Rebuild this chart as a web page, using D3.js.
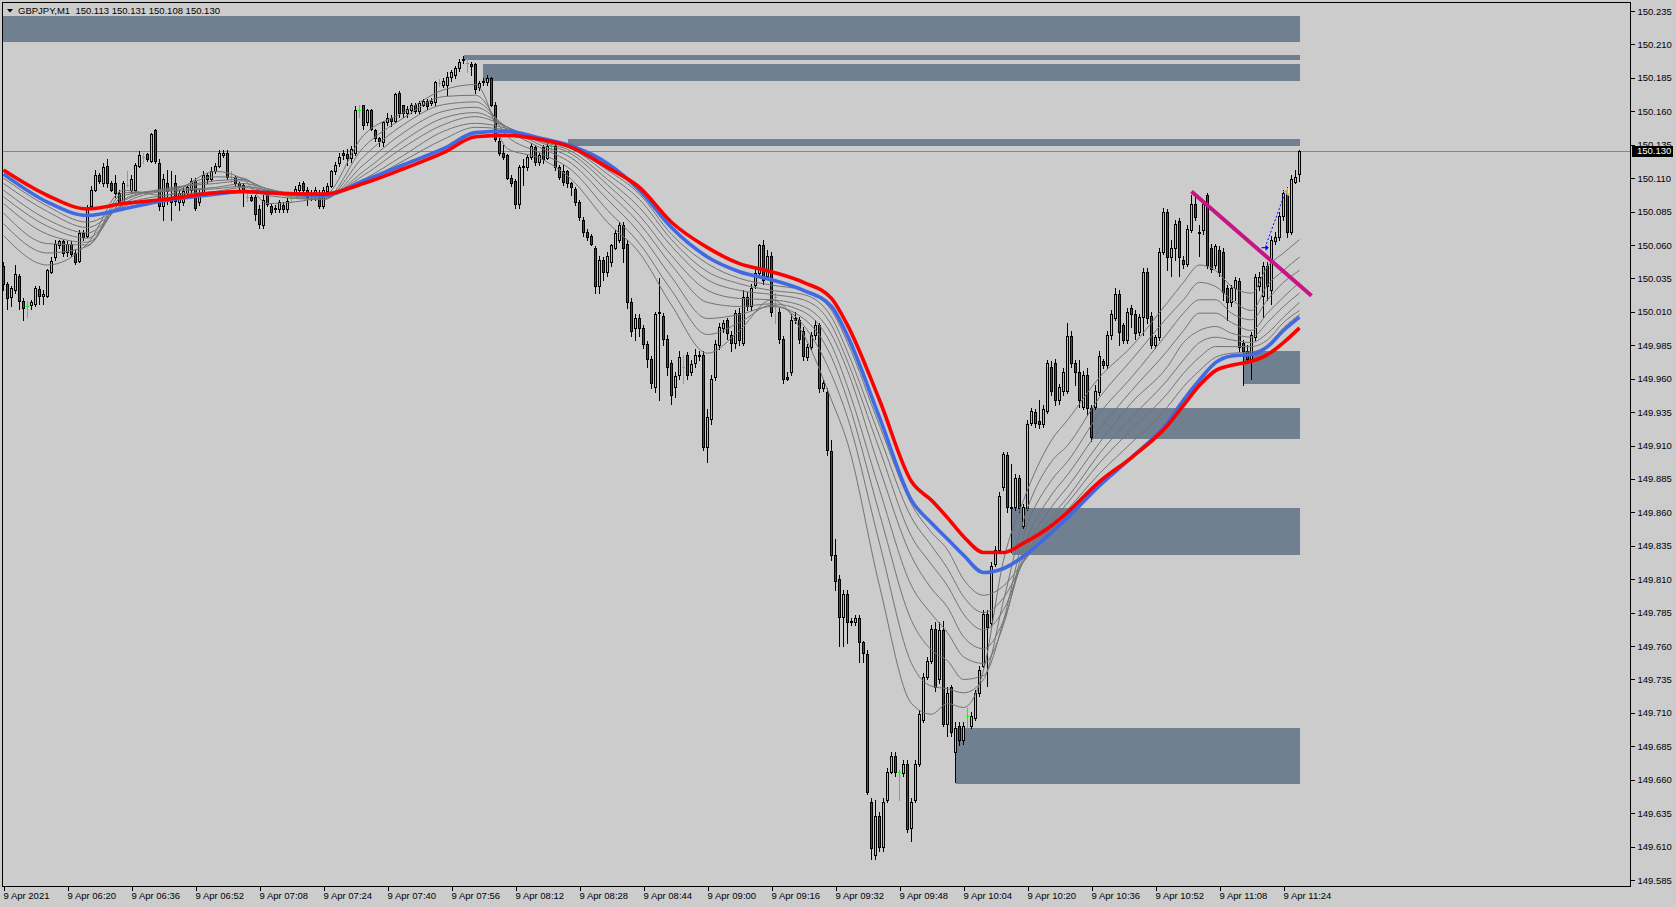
<!DOCTYPE html>
<html><head><meta charset="utf-8">
<script src="https://cdnjs.cloudflare.com/ajax/libs/d3/7.8.5/d3.min.js"></script>
<style>
html,body{margin:0;padding:0;background:#cccccc;overflow:hidden}
svg{display:block;font-family:"Liberation Sans",Arial,sans-serif}
</style></head><body>
<svg id="chart" width="1676" height="907"></svg>
<script>
// ---------------- DATA ----------------
const symbolTitle = "GBPJPY,M1  150.113 150.131 150.108 150.130";
const lastPrice = 150.130;

const opens = [
150.044,150.031,150.021,150.026,150.037,150.018,150.014,150.015,150.016,150.027,
150.022,150.022,150.040,150.051,150.060,150.063,150.055,150.061,150.054,150.048,
150.069,150.067,150.089,150.101,150.112,150.106,150.119,150.106,150.106,150.099,
150.092,150.105,150.101,150.101,150.119,150.126,150.128,150.123,150.146,150.121,
150.089,150.106,150.094,150.106,150.092,150.092,150.099,150.101,150.108,150.092,
150.099,150.112,150.109,150.115,150.119,150.127,150.129,150.111,150.111,150.106,
150.105,150.096,150.096,150.096,150.087,150.075,150.099,150.089,150.088,150.087,
150.090,150.087,150.095,150.099,150.101,150.106,150.101,150.099,150.097,150.099,
150.089,150.100,150.104,150.115,150.121,150.129,150.128,150.125,150.129,150.161,
150.165,150.152,150.161,150.146,150.140,150.137,150.152,150.155,150.153,150.174,
150.165,150.159,150.161,150.165,150.160,150.165,150.168,150.166,150.167,150.181,
150.180,150.180,150.186,150.187,150.192,150.199,150.196,150.195,150.195,150.178,
150.183,150.182,150.185,150.165,150.138,150.129,150.127,150.110,150.108,150.091,
150.118,150.118,150.126,150.133,150.122,150.133,150.125,150.134,150.134,150.118,
150.115,150.115,150.106,150.102,150.092,150.079,150.070,150.067,150.058,150.029,
150.049,150.040,150.047,150.058,150.064,150.075,150.061,150.017,149.998,150.005,
149.998,149.986,149.975,149.954,150.010,150.007,149.990,149.972,149.954,149.963,
149.969,149.978,149.965,149.972,149.978,149.978,149.909,149.930,149.961,149.985,
149.998,150.004,149.993,149.987,150.009,149.987,150.021,150.014,150.030,150.039,
150.060,150.037,150.052,150.021,150.010,149.990,149.961,149.965,150.005,150.004,
149.996,149.976,149.984,149.993,150.000,149.953,149.950,149.906,149.828,149.810,
149.782,149.799,149.779,149.778,149.781,149.763,149.754,149.643,149.604,149.633,
149.610,149.645,149.666,149.678,149.666,149.665,149.672,149.624,149.645,149.672,
149.705,149.737,149.749,149.773,149.735,149.772,149.702,149.729,149.681,149.700,
149.690,149.708,149.700,149.706,149.725,149.745,149.784,149.777,149.821,149.832,
149.879,149.903,149.864,149.864,149.886,149.850,149.863,149.927,149.935,149.928,
149.926,149.936,149.969,149.972,149.944,149.951,149.951,149.992,149.972,149.965,
149.939,149.963,149.938,149.939,149.950,149.973,149.970,149.993,150.005,150.023,
150.000,149.989,150.013,150.008,149.995,150.006,150.040,150.007,149.985,149.991,
150.055,150.085,150.051,150.058,150.078,150.049,150.046,150.071,150.091,150.070,
150.071,150.097,150.058,150.045,150.056,150.055,150.028,150.017,150.028,150.033,
149.987,149.981,149.975,149.991,150.029,150.022,150.044,150.026,150.063,150.066,
150.082,150.099,150.070,150.107,150.113];

const highs = [
150.047,150.032,150.029,150.045,150.038,150.020,150.018,150.019,150.029,150.029,
150.026,150.042,150.051,150.064,150.064,150.064,150.063,150.063,150.056,150.071,
150.071,150.090,150.104,150.116,150.114,150.121,150.124,150.108,150.112,150.101,
150.108,150.115,150.112,150.121,150.130,150.129,150.129,150.144,150.147,150.124,
150.113,150.116,150.115,150.112,150.101,150.103,150.105,150.110,150.110,150.101,
150.115,150.114,150.118,150.121,150.131,150.131,150.131,150.115,150.112,150.107,
150.106,150.099,150.097,150.097,150.090,150.097,150.101,150.091,150.090,150.094,
150.092,150.095,150.097,150.104,150.107,150.108,150.103,150.101,150.103,150.101,
150.103,150.106,150.116,150.122,150.129,150.131,150.132,150.134,150.164,150.165,
150.165,150.162,150.162,150.147,150.141,150.153,150.159,150.157,150.174,150.175,
150.165,150.164,150.166,150.166,150.168,150.169,150.169,150.170,150.183,150.184,
150.185,150.189,150.191,150.194,150.199,150.201,150.200,150.197,150.196,150.183,
150.185,150.187,150.186,150.167,150.140,150.135,150.128,150.112,150.109,150.120,
150.124,150.127,150.136,150.135,150.129,150.135,150.136,150.138,150.136,150.120,
150.120,150.116,150.107,150.103,150.094,150.081,150.072,150.068,150.059,150.052,
150.051,150.055,150.061,150.071,150.077,150.077,150.064,150.020,150.008,150.008,
150.000,149.988,149.977,150.010,150.035,150.009,149.993,149.974,149.965,149.981,
149.978,149.980,149.974,149.982,149.981,149.981,149.937,149.963,149.989,150.002,
150.004,150.005,149.996,150.011,150.013,150.026,150.025,150.031,150.043,150.061,
150.064,150.056,150.055,150.024,150.013,149.992,149.965,150.008,150.010,150.006,
149.999,149.986,149.995,150.004,150.002,149.959,149.953,149.914,149.840,149.813,
149.802,149.802,149.781,149.783,149.783,149.764,149.757,149.646,149.645,149.636,
149.646,149.669,149.681,149.681,149.667,149.675,149.675,149.646,149.675,149.712,
149.740,149.752,149.776,149.778,149.778,149.779,149.729,149.731,149.703,149.703,
149.703,149.714,149.711,149.727,149.745,149.787,149.787,149.823,149.835,149.875,
149.905,149.905,149.896,149.889,149.888,149.866,149.929,149.938,149.937,149.944,
149.940,149.974,149.973,149.975,149.956,149.968,150.002,149.996,149.974,149.974,
149.966,149.968,149.940,149.955,149.981,149.975,149.996,150.011,150.028,150.026,
150.002,150.013,150.015,150.011,150.008,150.043,150.043,150.010,149.993,150.058,
150.088,150.087,150.064,150.079,150.080,150.052,150.075,150.097,150.097,150.075,
150.094,150.099,150.061,150.061,150.059,150.058,150.030,150.030,150.036,150.035,
149.989,149.985,149.995,150.038,150.040,150.047,150.047,150.067,150.070,150.085,
150.101,150.103,150.112,150.116,150.131];

const lows = [
150.026,150.012,150.014,150.024,150.012,150.004,150.006,150.012,150.014,150.016,
150.016,150.021,150.039,150.049,150.058,150.052,150.052,150.052,150.046,150.047,
150.064,150.066,150.088,150.100,150.106,150.104,150.103,150.100,150.096,150.091,
150.091,150.103,150.099,150.100,150.118,150.121,150.123,150.122,150.121,150.086,
150.079,150.091,150.079,150.090,150.086,150.090,150.097,150.099,150.086,150.090,
150.097,150.106,150.108,150.114,150.118,150.126,150.109,150.107,150.104,150.101,
150.089,150.093,150.093,150.079,150.073,150.073,150.089,150.083,150.085,150.085,
150.085,150.085,150.093,150.097,150.099,150.099,150.090,150.094,150.094,150.088,
150.088,150.099,150.103,150.113,150.119,150.124,150.120,150.122,150.127,150.156,
150.147,150.150,150.146,150.138,150.134,150.134,150.150,150.149,150.152,150.156,
150.156,150.156,150.159,150.159,150.159,150.164,150.162,150.165,150.165,150.179,
150.178,150.172,150.183,150.185,150.190,150.196,150.189,150.187,150.174,150.176,
150.180,150.180,150.164,150.138,150.127,150.124,150.109,150.104,150.088,150.088,
150.105,150.116,150.124,150.120,150.120,150.121,150.124,150.131,150.116,150.109,
150.105,150.103,150.097,150.090,150.079,150.067,150.064,150.060,150.024,150.024,
150.034,150.037,150.044,150.057,150.062,150.047,150.013,149.992,149.989,149.992,
149.983,149.969,149.953,149.950,149.944,149.985,149.963,149.941,149.946,149.960,
149.957,149.960,149.963,149.969,149.974,149.907,149.898,149.926,149.959,149.982,
149.995,149.990,149.981,149.983,149.985,149.985,150.011,150.011,150.028,150.037,
150.031,150.035,150.007,150.002,149.987,149.957,149.959,149.963,150.002,149.987,
149.974,149.974,149.982,149.990,149.950,149.951,149.903,149.824,149.802,149.760,
149.760,149.762,149.776,149.776,149.748,149.748,149.649,149.601,149.601,149.607,
149.607,149.643,149.665,149.663,149.645,149.663,149.621,149.614,149.643,149.670,
149.703,149.735,149.747,149.726,149.732,149.700,149.693,149.693,149.658,149.686,
149.687,149.699,149.699,149.705,149.723,149.744,149.730,149.775,149.820,149.830,
149.877,149.860,149.830,149.862,149.860,149.848,149.862,149.925,149.924,149.923,
149.924,149.934,149.948,149.940,149.941,149.948,149.949,149.969,149.955,149.939,
149.937,149.933,149.913,149.937,149.948,149.968,149.968,149.990,150.004,149.985,
149.987,149.987,149.999,149.990,149.993,149.993,150.002,149.983,149.983,149.989,
150.053,150.041,150.037,150.049,150.037,150.043,150.044,150.070,150.079,150.052,
150.068,150.043,150.040,150.043,150.037,150.019,150.004,150.014,150.019,149.981,
149.955,149.973,149.960,149.989,150.026,150.006,150.019,150.016,150.061,150.064,
150.079,150.066,150.068,150.106,150.108];

const closes = [
150.031,150.020,150.028,150.038,150.018,150.013,150.014,150.017,150.028,150.022,
150.023,150.041,150.048,150.061,150.063,150.054,150.061,150.053,150.047,150.069,
150.066,150.087,150.101,150.112,150.108,150.118,150.106,150.101,150.099,150.092,
150.106,150.105,150.109,150.120,150.127,150.126,150.124,150.143,150.123,150.089,
150.109,150.100,150.092,150.093,150.099,150.100,150.103,150.108,150.088,150.099,
150.112,150.109,150.115,150.119,150.129,150.129,150.111,150.111,150.106,150.104,
150.101,150.096,150.094,150.083,150.076,150.094,150.091,150.085,150.087,150.092,
150.087,150.093,150.095,150.102,150.105,150.101,150.096,150.097,150.101,150.089,
150.101,150.104,150.115,150.120,150.126,150.127,150.125,150.132,150.161,150.161,
150.150,150.161,150.147,150.140,150.138,150.152,150.155,150.153,150.173,150.159,
150.159,150.162,150.165,150.160,150.166,150.168,150.164,150.168,150.182,150.181,
150.183,150.186,150.189,150.192,150.197,150.198,150.196,150.194,150.177,150.181,
150.182,150.185,150.165,150.139,150.129,150.126,150.110,150.106,150.091,150.118,
150.119,150.126,150.134,150.122,150.127,150.124,150.134,150.134,150.118,150.111,
150.107,150.106,150.103,150.092,150.081,150.070,150.066,150.061,150.029,150.049,
150.040,150.052,150.060,150.069,150.075,150.058,150.017,149.996,150.005,149.998,
149.986,149.975,149.957,150.008,150.009,149.990,149.969,149.948,149.962,149.976,
149.969,149.963,149.971,149.978,149.977,149.909,149.931,149.960,149.986,149.999,
150.002,149.994,149.987,150.009,149.989,150.021,150.014,150.028,150.039,150.060,
150.034,150.052,150.010,150.021,149.990,149.960,149.960,150.004,150.004,149.990,
149.977,149.984,149.993,150.000,149.953,149.957,149.907,149.828,149.809,149.782,
149.799,149.778,149.778,149.781,149.763,149.755,149.651,149.609,149.633,149.610,
149.643,149.666,149.678,149.666,149.666,149.672,149.623,149.643,149.672,149.709,
149.737,149.749,149.773,149.729,149.772,149.702,149.725,149.696,149.699,149.690,
149.700,149.708,149.708,149.725,149.742,149.784,149.774,149.820,149.832,149.872,
149.904,149.864,149.863,149.886,149.863,149.864,149.926,149.936,149.927,149.926,
149.937,149.972,149.951,149.944,149.954,149.965,149.992,149.972,149.965,149.944,
149.963,149.938,149.916,149.951,149.977,149.970,149.993,150.008,150.023,149.995,
149.989,150.010,150.008,149.994,150.006,150.040,150.005,149.985,149.991,150.055,
150.085,150.051,150.058,150.076,150.051,150.046,150.072,150.091,150.081,150.069,
150.091,150.045,150.042,150.059,150.040,150.025,150.017,150.028,150.034,149.984,
149.981,149.975,149.993,150.036,150.036,150.044,150.029,150.064,150.066,150.082,
150.099,150.070,150.109,150.111,150.130];

// moving-average lines, read at these bar indices
const maBars = [0,11,21,30,40,53,60,66,80,90,100,110,118,126,134,142,151,159,167,176,184,192,200,207,211,219,227,232,236,240,245,250,255,262,266,274,282,291,295,299,303,307,312,316,320,324];
const redMA = [150.116,150.097,150.087,150.091,150.094,150.099,150.100,150.099,150.098,150.106,150.117,150.129,150.141,150.142,150.139,150.133,150.118,150.103,150.077,150.058,150.046,150.040,150.032,150.020,150.000,149.944,149.883,149.869,149.856,149.842,149.830,149.830,149.837,149.850,149.860,149.883,149.901,149.925,149.940,149.955,149.966,149.970,149.973,149.978,149.987,149.998];
const blueMA = [150.113,150.092,150.082,150.087,150.093,150.098,150.100,150.099,150.097,150.108,150.120,150.132,150.144,150.145,150.140,150.134,150.121,150.101,150.073,150.051,150.040,150.034,150.026,150.014,149.992,149.931,149.869,149.852,149.840,149.828,149.815,149.818,149.827,149.845,149.856,149.880,149.901,149.927,149.944,149.959,149.972,149.977,149.978,149.984,149.996,150.006];
const gray1 = [150.067,150.045,150.061,150.101,150.097,150.115,150.109,150.091,150.096,150.142,150.159,150.176,150.180,150.132,150.125,150.109,150.077,150.054,150.015,149.979,149.996,150.019,149.993,149.944,149.912,149.805,149.717,149.709,149.717,149.714,149.742,149.824,149.869,149.914,149.929,149.961,149.984,150.017,150.032,150.045,150.041,150.029,150.024,150.044,150.054,150.064];
const gray2 = [150.076,150.054,150.059,150.099,150.100,150.111,150.110,150.097,150.094,150.133,150.155,150.171,150.172,150.141,150.129,150.116,150.086,150.061,150.026,149.993,150.002,150.015,150.000,149.963,149.931,149.837,149.747,149.730,149.728,149.725,149.735,149.794,149.854,149.898,149.910,149.946,149.974,150.006,150.019,150.032,150.029,150.019,150.011,150.030,150.041,150.051];
const gray3 = [150.084,150.061,150.060,150.097,150.101,150.108,150.109,150.100,150.094,150.126,150.150,150.165,150.167,150.146,150.133,150.121,150.094,150.069,150.036,150.005,150.008,150.014,150.005,149.976,149.944,149.859,149.779,149.757,149.749,149.735,149.738,149.779,149.842,149.884,149.898,149.934,149.961,149.994,150.009,150.019,150.019,150.009,150.004,150.019,150.032,150.041];
const gray4 = [150.091,150.068,150.062,150.094,150.102,150.106,150.108,150.102,150.094,150.120,150.144,150.160,150.163,150.148,150.135,150.125,150.100,150.076,150.045,150.017,150.014,150.016,150.010,149.985,149.954,149.877,149.805,149.784,149.770,149.752,149.747,149.776,149.833,149.873,149.888,149.922,149.951,149.981,149.996,150.009,150.009,150.002,149.996,150.009,150.021,150.032];
const gray5 = [150.096,150.074,150.065,150.093,150.101,150.103,150.106,150.102,150.095,150.115,150.138,150.155,150.159,150.148,150.137,150.128,150.105,150.082,150.052,150.026,150.020,150.019,150.014,149.993,149.966,149.893,149.827,149.803,149.789,149.767,149.758,149.779,149.827,149.864,149.879,149.912,149.942,149.969,149.987,149.996,149.999,149.994,149.991,150.002,150.014,150.024];
const gray6 = [150.101,150.079,150.069,150.091,150.100,150.102,150.104,150.101,150.096,150.112,150.133,150.150,150.156,150.148,150.138,150.130,150.109,150.088,150.059,150.034,150.026,150.023,150.019,150.000,149.973,149.907,149.842,149.821,149.805,149.784,149.772,149.787,149.824,149.857,149.871,149.904,149.931,149.959,149.974,149.987,149.991,149.989,149.987,149.994,150.006,150.017];
const gray7 = [150.106,150.085,150.073,150.090,150.097,150.100,150.103,150.100,150.097,150.109,150.127,150.145,150.151,150.147,150.138,150.132,150.113,150.094,150.064,150.040,150.031,150.026,150.023,150.006,149.980,149.917,149.856,149.835,149.818,149.797,149.785,149.796,149.823,149.853,149.867,149.897,149.922,149.949,149.964,149.976,149.984,149.984,149.984,149.989,150.002,150.011];
const gray8 = [150.110,150.089,150.077,150.089,150.095,150.099,150.101,150.100,150.097,150.107,150.123,150.139,150.148,150.146,150.139,150.132,150.116,150.098,150.068,150.046,150.035,150.030,150.026,150.011,149.987,149.925,149.866,149.845,149.832,149.810,149.798,149.805,149.823,149.849,149.862,149.889,149.912,149.939,149.954,149.966,149.976,149.979,149.980,149.985,149.998,150.008];

// supply / demand rectangles
const zoneStartBars = [-1,115,120,141,310,272,252,238];
const zoneEndBar = 324;
const zoneTops    = [150.231,150.202,150.195,150.139,149.981,149.938,149.863,149.699];
const zoneBottoms = [150.212,150.198,150.183,150.134,149.956,149.915,149.828,149.657];

// trend line and trade arrows
const trendBars = [297,327];
const trendPrices = [150.100,150.022];
const tradeBars = [315.4,320.5];
const tradePrices = [150.058,150.100];

// axis ticks
const timeTickBars = [0,16,32,48,64,80,96,112,128,144,160,176,192,208,224,240,256,272,288,304,320];
const timeLabels = ["9 Apr 2021","9 Apr 06:20","9 Apr 06:36","9 Apr 06:52","9 Apr 07:08","9 Apr 07:24","9 Apr 07:40","9 Apr 07:56","9 Apr 08:12","9 Apr 08:28","9 Apr 08:44","9 Apr 09:00","9 Apr 09:16","9 Apr 09:32","9 Apr 09:48","9 Apr 10:04","9 Apr 10:20","9 Apr 10:36","9 Apr 10:52","9 Apr 11:08","9 Apr 11:24"];
const priceTicks = [150.235,150.210,150.185,150.160,150.135,150.110,150.085,150.060,150.035,150.010,149.985,149.960,149.935,149.910,149.885,149.860,149.835,149.810,149.785,149.760,149.735,149.710,149.685,149.660,149.635,149.610,149.585];

// ---------------- DRAW ----------------
const svg = d3.select("#chart");
const PL = 2, PT = 2, PR = 1630, PB = 886;
const x = d3.scaleLinear().domain([0, 324]).range([3.5, 1299.5]);
const y = d3.scaleLinear().domain([149.585, 150.235]).range([880, 11]);

svg.append("rect").attr("width",1676).attr("height",907).attr("fill","#cccccc");
svg.append("defs").append("clipPath").attr("id","clip")
  .append("rect").attr("x",PL).attr("y",PT).attr("width",PR-PL).attr("height",PB-PT);

const g = svg.append("g").attr("clip-path","url(#clip)");

// zones
g.selectAll("rect.zone").data(zoneStartBars).enter().append("rect")
  .attr("class","zone")
  .attr("x", d => Math.round(x(d)))
  .attr("width", d => Math.round(x(zoneEndBar)) - Math.round(x(d)))
  .attr("y", (d,i) => Math.round(y(zoneTops[i])))
  .attr("height", (d,i) => Math.max(2, Math.round(y(zoneBottoms[i])) - Math.round(y(zoneTops[i]))))
  .attr("fill","#708090")
  .attr("shape-rendering","crispEdges");

// current price line
g.append("line").attr("x1",PL).attr("x2",PR)
  .attr("y1",Math.round(y(lastPrice))+0.5).attr("y2",Math.round(y(lastPrice))+0.5)
  .attr("stroke","#778899").attr("stroke-width",1).attr("shape-rendering","crispEdges");

// candles
const cg = g.append("g").attr("shape-rendering","crispEdges");
const BULL = "#9ee62a", BEAR = "#ff0000", DOJI = "#00ff00";
opens.forEach((o,i) => {
  const c = closes[i], h = highs[i], l = lows[i];
  const cx = x(i);
  const doji = Math.abs(o - c) < 1e-9;
  cg.append("line").attr("x1",cx).attr("x2",cx)
    .attr("y1",Math.round(y(h))).attr("y2",Math.round(y(l))+1)
    .attr("stroke", doji ? DOJI : "#000").attr("stroke-width",1);
  if (doji) {
    const yy = Math.round(y(o)) + 0.5;
    cg.append("line").attr("x1",cx-1.5).attr("x2",cx+1.5).attr("y1",yy).attr("y2",yy)
      .attr("stroke",DOJI).attr("stroke-width",1);
    return;
  }
  const top = Math.round(y(Math.max(o,c))), bot = Math.round(y(Math.min(o,c)));
  if (bot - top < 1) {
    cg.append("line").attr("x1",cx-1.5).attr("x2",cx+1.5).attr("y1",top+0.5).attr("y2",top+0.5)
      .attr("stroke","#000").attr("stroke-width",1);
  } else {
    cg.append("rect").attr("x",cx-1).attr("width",2)
      .attr("y",top+0.5).attr("height",bot-top)
      .attr("fill", c > o ? BULL : BEAR)
      .attr("stroke","#000").attr("stroke-width",1);
  }
});

// moving averages
const maLine = d3.line().x((d,i) => x(maBars[i])).y(d => y(d)).curve(d3.curveMonotoneX);
[gray8,gray7,gray6,gray5,gray4,gray3,gray2,gray1].forEach(arr => {
  g.append("path").attr("d", maLine(arr)).attr("fill","none")
    .attr("stroke","#737373").attr("stroke-width",1);
});
g.append("path").attr("d", maLine(blueMA)).attr("fill","none")
  .attr("stroke","#4169e1").attr("stroke-width",3.6);
g.append("path").attr("d", maLine(redMA)).attr("fill","none")
  .attr("stroke","#ff0000").attr("stroke-width",3.6);

// trend line
g.append("line")
  .attr("x1", x(trendBars[0])).attr("y1", y(trendPrices[0]))
  .attr("x2", x(trendBars[1])).attr("y2", y(trendPrices[1]))
  .attr("stroke","#c71585").attr("stroke-width",4);

// trade markers
const tx0 = x(tradeBars[0]), ty0 = y(tradePrices[0]);
const tx1 = x(tradeBars[1]), ty1 = y(tradePrices[1]);
g.append("line").attr("x1",tx0).attr("y1",ty0).attr("x2",tx1).attr("y2",ty1)
  .attr("stroke","#0000ff").attr("stroke-width",1).attr("stroke-dasharray","2,2");
g.append("path")
  .attr("d", `M${tx0-4},${ty0-1} L${tx0},${ty0-1} L${tx0},${ty0-4} L${tx0+4},${ty0} L${tx0},${ty0+4} L${tx0},${ty0+1} L${tx0-4},${ty0+1} Z`)
  .attr("fill","#0000ff").attr("stroke","#ffffff").attr("stroke-width",0.6);
g.append("path")
  .attr("d", `M${tx1-2},${ty1} L${tx1+3},${ty1-4} L${tx1+3},${ty1+4} Z`)
  .attr("fill","#daa520").attr("stroke","#ffffff").attr("stroke-width",0.6);

// frame
svg.append("rect").attr("x",PL+0.5).attr("y",PT+0.5).attr("width",PR-PL).attr("height",PB-PT)
  .attr("fill","none").attr("stroke","#000").attr("stroke-width",1).attr("shape-rendering","crispEdges");

// price axis
const yAxis = d3.axisRight(y).tickValues(priceTicks).tickSize(4).tickPadding(3)
  .tickFormat(d3.format(".3f"));
const ya = svg.append("g").attr("transform",`translate(${PR+0.5},0)`).call(yAxis);
ya.select(".domain").remove();
ya.selectAll("line").attr("stroke","#000").attr("shape-rendering","crispEdges");
ya.selectAll("text").attr("font-size","9.5px").attr("fill","#000")
  .attr("font-family","'Liberation Sans', Arial, sans-serif");

// time axis
const xAxis = d3.axisBottom(x).tickValues(timeTickBars).tickSize(4).tickPadding(2)
  .tickFormat((d,i) => timeLabels[i]);
const xa = svg.append("g").attr("transform",`translate(0,${PB+0.5})`).call(xAxis);
xa.select(".domain").remove();
xa.selectAll("line").attr("stroke","#000").attr("shape-rendering","crispEdges");
xa.selectAll("text").attr("font-size","9.5px").attr("fill","#000")
  .attr("text-anchor","start").attr("dx","-0.5")
  .attr("font-family","'Liberation Sans', Arial, sans-serif");

// current price label
const lp = Math.round(y(lastPrice));
svg.append("rect").attr("x",PR+2).attr("y",lp-5).attr("width",41).attr("height",11)
  .attr("fill","#000").attr("shape-rendering","crispEdges");
svg.append("text").attr("x",PR+7).attr("y",lp).attr("dy","0.35em")
  .attr("font-size","9.5px").attr("fill","#fff").text(d3.format(".3f")(lastPrice));

// header
svg.append("path").attr("d","M7,9 L13,9 L10,12.5 Z").attr("fill","#000");
svg.append("text").attr("x",18).attr("y",14).attr("font-size","9.5px").attr("fill","#000")
  .style("white-space","pre").text(symbolTitle);
</script>
</body></html>
